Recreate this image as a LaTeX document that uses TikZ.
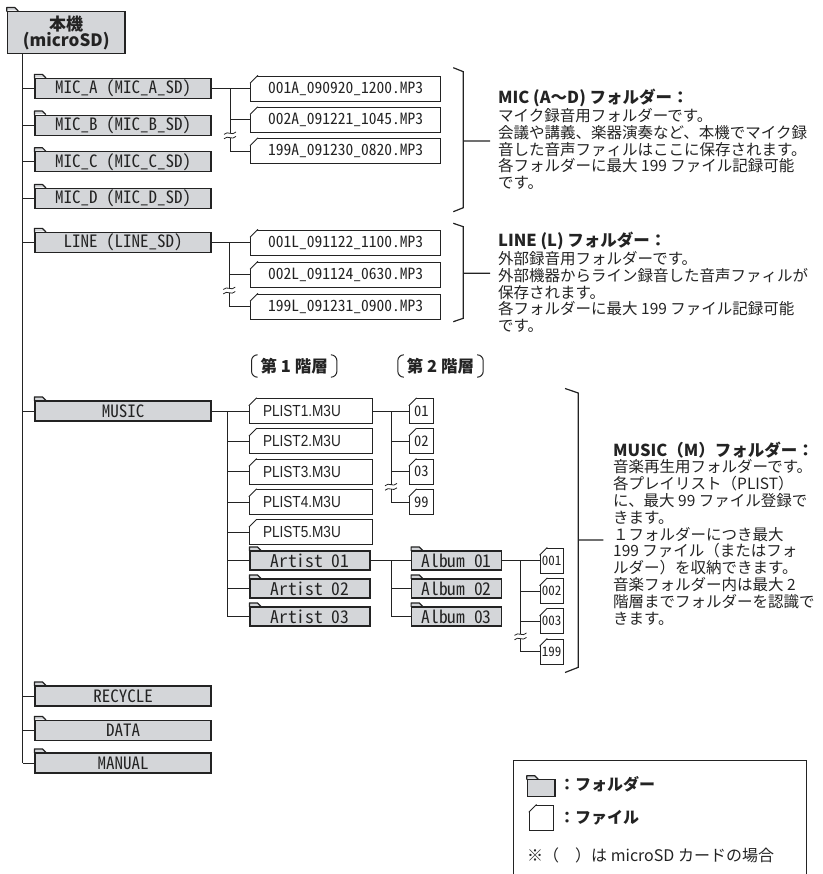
\documentclass[tikz,border=0pt]{standalone}
\usepackage{fontspec}
\setmainfont{Noto Sans CJK JP}
\newfontfamily\hwfont[RawFeature=+hwid]{Noto Sans CJK JP}
\newfontfamily\plfont[FakeStretch=0.85]{Liberation Sans}
\definecolor{foldergray}{RGB}{212,214,217}
\definecolor{inkgray}{RGB}{35,35,35}
\begin{document}
\begin{tikzpicture}[x=1pt, y=-1pt,
  every node/.style={inner sep=0pt, text=inkgray},
  folder/.style={draw=inkgray, fill=foldergray, line width=1.2pt, minimum height=20pt,
    font=\hwfont\fontsize{17}{18}\selectfont},
  topfolder/.style={folder, minimum width=176pt},
  subfolder/.style={folder, minimum height=19pt, font=\hwfont\fontsize{17.5}{19}\selectfont},
  mp3/.style={draw=inkgray, fill=white, line width=0.9pt, minimum width=190pt, minimum height=25pt,
    font=\hwfont\fontsize{15.5}{16}\selectfont},
  plist/.style={mp3, minimum width=123pt, text width=96pt, inner xsep=13.5pt, align=left,
    font=\plfont\fontsize{16}{17}\selectfont},
  track/.style={mp3, minimum width=24pt, font=\hwfont\fontsize{14.5}{15}\selectfont},
  note/.style={anchor=north west, align=left, font=\fontsize{15.5}{16.8}\selectfont},
  tier/.style={minimum width=85pt, minimum height=22pt, font=\bfseries\fontsize{16.5}{17}\selectfont},
  tie/.style={draw=inkgray, line width=0.9pt},
  brace/.style={draw=inkgray, line width=1.2pt},
  brk/.pic={
    \fill[white] (-2,-2.2) rectangle (2,2.2);
    \draw[inkgray, line width=0.8pt] (-6,-1) .. controls (-2,-5.2) and (2,1) .. (6,-3.4);
    \draw[inkgray, line width=0.8pt] (-6,3.4) .. controls (-2,-0.8) and (2,5.4) .. (6,1);}]
\useasboundingbox (0,0) rectangle (822,874);

\node[folder, minimum width=117.7pt, minimum height=41.6pt, align=center,
  font=\bfseries\fontsize{17}{16}\selectfont] (root) at (66.2,32.5) {本機\\(microSD)};

\node[topfolder] (micA) at (123,88.5) {MIC\_A (MIC\_A\_SD)};
\node[topfolder] (micB) at (123,125.2) {MIC\_B (MIC\_B\_SD)};
\node[topfolder] (micC) at (123,161.9) {MIC\_C (MIC\_C\_SD)};
\node[topfolder] (micD) at (123,198.6) {MIC\_D (MIC\_D\_SD)};
\node[topfolder] (line) at (123,242.5) {LINE (LINE\_SD)};
\node[topfolder] (music) at (123,411) {MUSIC};
\node[topfolder] (recycle) at (123,696) {RECYCLE};
\node[topfolder] (data) at (123,730.5) {DATA};
\node[topfolder] (manual) at (123,763) {MANUAL};

\node[mp3] (fA1) at (345.7,88.5) {001A\_090920\_1200.MP3};
\node[mp3] (fA2) at (345.7,119.8) {002A\_091221\_1045.MP3};
\node[mp3] (fA3) at (345.7,151) {199A\_091230\_0820.MP3};
\node[mp3] (fL1) at (345.7,242.5) {001L\_091122\_1100.MP3};
\node[mp3] (fL2) at (345.7,274.5) {002L\_091124\_0630.MP3};
\node[mp3] (fL3) at (345.7,306.5) {199L\_091231\_0900.MP3};

\node[tier] (tier1) at (294.2,366) {第 1 階層};
\node[tier] (tier2) at (440.5,366) {第 2 階層};

\node[plist] (p1) at (311,411) {PLIST1.M3U};
\node[plist] (p2) at (311,441.3) {PLIST2.M3U};
\node[plist] (p3) at (311,471.6) {PLIST3.M3U};
\node[plist] (p4) at (311,502) {PLIST4.M3U};
\node[plist] (p5) at (311,532.3) {PLIST5.M3U};
\node[subfolder, minimum width=120pt] (a1) at (310,560.5) {Artist 01};
\node[subfolder, minimum width=120pt] (a2) at (310,588.5) {Artist 02};
\node[subfolder, minimum width=120pt] (a3) at (310,616.5) {Artist 03};

\node[track] (s1) at (421.3,411) {\raisebox{-2pt}{01}};
\node[track] (s2) at (421.3,441.3) {\raisebox{-2pt}{02}};
\node[track] (s3) at (421.3,471.6) {\raisebox{-2pt}{03}};
\node[track] (s4) at (421.3,502) {\raisebox{-2pt}{99}};

\node[subfolder, minimum width=90pt] (b1) at (456.7,560.5) {Album 01};
\node[subfolder, minimum width=90pt] (b2) at (456.7,588.5) {Album 02};
\node[subfolder, minimum width=90pt] (b3) at (456.7,616.5) {Album 03};

\node[track, minimum width=23.3pt, font=\hwfont\fontsize{13}{13}\selectfont] (t1) at (551.7,560.5) {\raisebox{-2pt}{001}};
\node[track, minimum width=23.3pt, font=\hwfont\fontsize{13}{13}\selectfont] (t2) at (551.7,591) {\raisebox{-2pt}{002}};
\node[track, minimum width=23.3pt, font=\hwfont\fontsize{13}{13}\selectfont] (t3) at (551.7,621.3) {\raisebox{-2pt}{003}};
\node[track, minimum width=23.3pt, font=\hwfont\fontsize{13}{13}\selectfont] (t4) at (551.7,651.5) {\raisebox{-2pt}{199}};

\node[note] (micnote) at (498,88.5) {{\bfseries\fontsize{16.5}{16.8}\selectfont MIC (A～D) フォルダー：}\\[1.5pt]
  マイク録音用フォルダーです。\\
  会議や講義、楽器演奏など、本機でマイク録\\
  音した音声ファィルはここに保存されます。\\
  各フォルダーに最大 199 ファイル記録可能\\
  です。};
\node[note] (linenote) at (498,231.5) {{\bfseries\fontsize{16.5}{16.8}\selectfont LINE (L) フォルダー：}\\[1.5pt]
  外部録音用フォルダーです。\\
  外部機器からライン録音した音声ファィルが\\
  保存されます。\\
  各フォルダーに最大 199 ファイル記録可能\\
  です。};
\node[note] (musnote) at (613,441.5) {{\bfseries\fontsize{16.5}{16.8}\selectfont MUSIC（M）フォルダー：}\\
  音楽再生用フォルダーです。\\
  各プレイリスト（PLIST）\\
  に、最大 99 ファイル登録で\\
  きます。\\
  １フォルダーにつき最大\\
  199 ファイル（またはフォ\\
  ルダー）を収納できます。\\
  音楽フォルダー内は最大 2\\
  階層までフォルダーを認識で\\
  きます。};

\node[folder, minimum width=27.7pt, minimum height=17pt] (lfold) at (541.2,788.3) {};
\node[mp3, minimum width=24pt] (lfile) at (541.3,817.5) {};
\node[anchor=west, font=\bfseries\fontsize{16}{16}\selectfont] (ltxt1) at (559,784) {：フォルダー};
\node[anchor=west, font=\bfseries\fontsize{16}{16}\selectfont] (ltxt2) at (559,817.5) {：ファイル};
\node[anchor=west, font=\fontsize{16}{16}\selectfont] (lnote) at (527,855) {※（　）は microSD カードの場合};

\foreach \f in {root,micA,micB,micC,micD,line,music,recycle,data,manual,a1,a2,a3,b1,b2,b3,lfold} {
  \fill[foldergray] ([yshift=0.6pt]\f.north west) -- ([yshift=3.5pt]\f.north west)
    -- ([xshift=8pt,yshift=3.5pt]\f.north west) -- ([xshift=11.5pt,yshift=0.6pt]\f.north west) -- cycle;
  \draw[inkgray, line width=1.2pt, line join=round] ([yshift=-0.5pt]\f.north west) -- ([yshift=3.5pt]\f.north west)
    -- ([xshift=8pt,yshift=3.5pt]\f.north west) -- ([xshift=11.5pt]\f.north west);
}
\foreach \f in {fA1,fA2,fA3,fL1,fL2,fL3,p1,p2,p3,p4,p5,s1,s2,s3,s4,t1,t2,t3,t4,lfile} {
  \fill[white] ([xshift=-1pt,yshift=1pt]\f.north west) -- ([xshift=8.5pt,yshift=1pt]\f.north west)
    -- ([xshift=-1pt,yshift=-8.5pt]\f.north west) -- cycle;
  \draw[inkgray, line width=0.9pt, line cap=round] ([xshift=7.5pt]\f.north west) -- ([yshift=-7.5pt]\f.north west);
}
\foreach \f in {tier1,tier2} {
  \draw[inkgray, line width=1pt, rounded corners=6pt] ([xshift=5pt]\f.north west) -- (\f.north west)
    -- (\f.south west) -- ([xshift=5pt]\f.south west);
  \draw[inkgray, line width=1pt, rounded corners=6pt] ([xshift=-5pt]\f.north east) -- (\f.north east)
    -- (\f.south east) -- ([xshift=-5pt]\f.south east);
}

\coordinate (trunk) at (22.7,0);
\draw[tie] (root.south -| trunk) -- (manual.west -| trunk);
\foreach \f in {micA,micB,micC,micD,line,music,recycle,data,manual}
  \draw[tie] (\f.west -| trunk) -- (\f.west);

\coordinate (micx) at (230,0);
\draw[tie] (micA.east) -- (fA1.west);
\draw[tie] (fA1.west -| micx) |- (fA3.west);
\draw[tie] (fA2.west -| micx) -- (fA2.west);

\coordinate (linex) at (229.3,0);
\draw[tie] (line.east) -- (fL1.west);
\draw[tie] (fL1.west -| linex) |- (fL3.west);
\draw[tie] (fL2.west -| linex) -- (fL2.west);

\coordinate (musx) at (227,0);
\draw[tie] (music.east) -- (p1.west);
\draw[tie] (p1.west -| musx) |- (a3.west);
\foreach \f in {p2,p3,p4,p5,a1,a2}
  \draw[tie] (\f.west -| musx) -- (\f.west);

\coordinate (plx) at (391,0);
\draw[tie] (p1.east) -- (s1.west);
\draw[tie] (s1.west -| plx) |- (s4.west);
\foreach \f in {s2,s3}
  \draw[tie] (\f.west -| plx) -- (\f.west);

\coordinate (artx) at (391.5,0);
\draw[tie] (a1.east) -- (b1.west);
\draw[tie] (b1.west -| artx) |- (b3.west);
\draw[tie] (b2.west -| artx) -- (b2.west);

\coordinate (albx) at (520.5,0);
\draw[tie] (b1.east) -- (t1.west);
\draw[tie] (t1.west -| albx) |- (t4.west);
\foreach \f in {t2,t3}
  \draw[tie] (\f.west -| albx) -- (\f.west);

\pic at (230,135.4) {brk};
\pic at (229.3,290.5) {brk};
\pic at (391,486.8) {brk};
\pic at (520.5,636.4) {brk};

\draw[brace] (453.3,67.7) -- (463.3,71.7) -- (463.3,207.7) -- (453.3,211.7) (463.3,141) -- (490,141);
\draw[brace] (453.3,223.3) -- (463.3,226.7) -- (463.3,318.3) -- (453.3,321.7) (463.3,273.3) -- (490,273.3);
\draw[brace] (565,388.5) -- (578.3,393) -- (578.3,667.3) -- (565,672.5) (578.3,540) -- (603.3,540);

\draw[inkgray, line width=1pt] (513.3,874) -- (513.3,760) -- (806.7,760) -- (806.7,874);
\end{tikzpicture}
\end{document}
